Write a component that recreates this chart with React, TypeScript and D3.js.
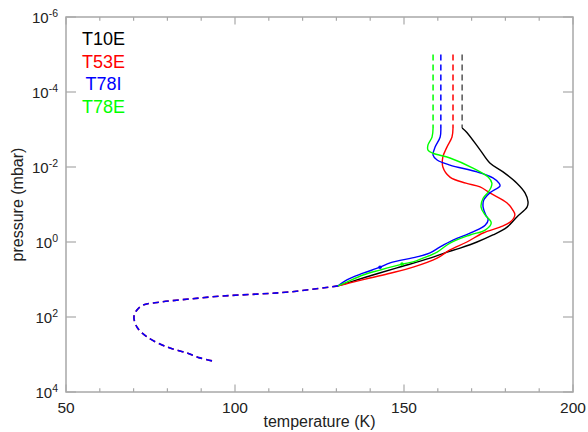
import React from 'react';
import * as d3 from 'd3';

// ---------- data ----------
const xMajorTicks = [50, 100, 150, 200];
const xMinorTicks = [60, 70, 80, 90, 110, 120, 130, 140, 160, 170, 180, 190];
const yTickExponents = [-6, -4, -2, 0, 2, 4];

const seriesNames = ['T10E', 'T53E', 'T78I', 'T78E'];
const seriesColors = ['#000000', '#ff0000', '#0000ff', '#00ff00'];

// isothermal upper extension (dashed), one temperature per series
const topTemps = [167.2, 164.5, 160.9, 158.6];
const topPressureRange = [1e-5, 9.1e-4];

// T10E
const t10eTemp = [167.2, 168.6, 172.5, 175.4, 179.3, 183.4, 185.8, 186.7, 186.4, 183.4, 180.5, 176.3, 171.6, 166.6, 162.1, 157.7, 147.9, 140.8, 134.0, 130.5];
const t10ePres = [9.1e-4, 1.2e-3, 3.5e-3, 7.8e-3, 1.35e-2, 2.7e-2, 4.9e-2, 8.5e-2, 0.117, 0.214, 0.40, 0.65, 1.0, 1.45, 1.95, 2.7, 4.9, 7.6, 11.7, 14.8];

// T53E
const t53eTemp = [164.5, 164.2, 162.7, 161.5, 161.5, 163.6, 168.3, 172.5, 175.4, 180.5, 182.2, 182.8, 181.4, 178.4, 173.4, 168.6, 163.6, 159.8, 152.7, 145.9, 139.9, 134.0, 130.5];
const t53ePres = [9.1e-4, 1.58e-3, 2.95e-3, 5.4e-3, 1.0e-2, 1.86e-2, 2.7e-2, 3.4e-2, 4.9e-2, 9.1e-2, 0.141, 0.19, 0.295, 0.40, 0.575, 1.0, 1.62, 2.7, 4.7, 6.8, 9.1, 12.3, 14.8];

// T78I
const t78iTemp = [160.9, 160.7, 159.2, 158.6, 159.8, 163.6, 171.6, 176.3, 178.1, 178.4, 175.4, 173.6, 173.4, 174.2, 174.9, 174.0, 170.4, 164.5, 160.7, 157.7, 153.8, 145.9, 142.9, 137.9, 133.1, 130.5];
const t78iPres = [9.1e-4, 1.58e-3, 2.95e-3, 4.8e-3, 6.5e-3, 8.9e-3, 1.35e-2, 1.95e-2, 2.7e-2, 3.2e-2, 4.9e-2, 7.6e-2, 0.117, 0.19, 0.257, 0.355, 0.537, 0.89, 1.35, 1.95, 2.5, 3.6, 4.7, 6.8, 10.2, 14.8];

// T78E
const t78eTemp = [158.6, 158.3, 157.1, 157.1, 158.6, 163.6, 170.4, 174.9, 176.0, 175.7, 174.9, 173.4, 172.8, 174.0, 175.8, 174.0, 169.5, 163.6, 159.8, 155.6, 152.7, 149.4, 142.9, 137.9, 133.1, 130.5];
const t78ePres = [9.1e-4, 1.58e-3, 2.57e-3, 3.55e-3, 4.3e-3, 5.75e-3, 1.07e-2, 1.86e-2, 2.7e-2, 3.6e-2, 4.7e-2, 6.8e-2, 0.117, 0.19, 0.31, 0.48, 0.65, 1.07, 1.86, 2.7, 3.4, 3.9, 5.6, 7.6, 11.7, 14.8];

// shared lower (dashed) profile
const lowerTemp = [130.5, 116.3, 106.5, 96.4, 86.7, 77.8, 72.8, 71.0, 70.1, 71.0, 74.0, 79.9, 85.8, 89.6, 93.2];
const lowerPres = [14.8, 21.4, 24.5, 27.5, 33, 40, 48, 65, 100, 186, 340, 630, 910, 1230, 1480];

// small markers
const markerTemp = [142.9, 149.4];
const markerPres = [4.7, 3.9];
const markerColors = ['#0000ff', '#00ff00'];

const seriesTemps = [t10eTemp, t53eTemp, t78iTemp, t78eTemp];
const seriesPres = [t10ePres, t53ePres, t78iPres, t78ePres];

// ---------- chart ----------
const W = 588, H = 432;
const L = 66, R = 573, T = 17, B = 392;
const FONT = '"Liberation Sans", Arial, Helvetica, sans-serif';
const AXIS = '#a8a8a8';

export default function App() {
  const x = d3.scaleLinear().domain([50, 200]).range([L, R]);
  const y = d3.scaleLog().domain([1e-6, 1e4]).range([T, B]);
  const line = d3
    .line<[number, number]>()
    .x((d) => x(d[0]))
    .y((d) => y(d[1]))
    .curve(d3.curveCatmullRom.alpha(0.5));
  const pts = (ts: number[], ps: number[]) => ts.map((t, i) => [t, ps[i]] as [number, number]);

  return (
    <svg width={W} height={H} style={{ position: 'absolute', left: 0, top: 0, background: '#fff' }} fontFamily={FONT}>
      <rect x={0} y={0} width={W} height={H} fill="#fff" />
      {/* frame */}
      <rect x={L} y={T} width={R - L} height={B - T} fill="none" stroke={AXIS} strokeWidth={1.5} />
      {/* x ticks */}
      {xMajorTicks.map((v) => (
        <g key={'xm' + v}>
          <line x1={x(v)} x2={x(v)} y1={B} y2={B - 7.5} stroke={AXIS} strokeWidth={1.2} />
          <line x1={x(v)} x2={x(v)} y1={T} y2={T + 7.5} stroke={AXIS} strokeWidth={1.2} />
          <text x={x(v)} y={412.5} textAnchor="middle" fontSize={15.5} fill="#222">{v}</text>
        </g>
      ))}
      {xMinorTicks.map((v) => (
        <g key={'xn' + v}>
          <line x1={x(v)} x2={x(v)} y1={B} y2={B - 3.8} stroke={AXIS} strokeWidth={1.2} />
          <line x1={x(v)} x2={x(v)} y1={T} y2={T + 3.8} stroke={AXIS} strokeWidth={1.2} />
        </g>
      ))}
      {/* y ticks */}
      {yTickExponents.map((e) => (
        <g key={'y' + e}>
          <line x1={L} x2={L + 10} y1={y(Math.pow(10, e))} y2={y(Math.pow(10, e))} stroke={AXIS} strokeWidth={1.2} />
          <line x1={R} x2={R - 10} y1={y(Math.pow(10, e))} y2={y(Math.pow(10, e))} stroke={AXIS} strokeWidth={1.2} />
          <text x={58} y={y(Math.pow(10, e)) + 6} textAnchor="end" fontSize={15} fill="#222">
            <tspan>10</tspan>
            <tspan dy={-6} fontSize={10.5}>{e}</tspan>
          </text>
        </g>
      ))}
      {/* axis titles */}
      <text x={(L + R) / 2} y={427} textAnchor="middle" fontSize={16} fill="#222">temperature (K)</text>
      <text transform={`translate(23,${(T + B) / 2}) rotate(-90)`} textAnchor="middle" fontSize={16} fill="#222">pressure (mbar)</text>

      {/* lower shared dashed profile */}
      <path d={line(pts(lowerTemp, lowerPres)) || ''} fill="none" stroke="#ff0000" strokeWidth={1.6} strokeDasharray="6,4" />
      <path d={line(pts(lowerTemp, lowerPres)) || ''} fill="none" stroke="#0000ff" strokeWidth={1.6} strokeDasharray="6,4" />

      {/* upper dashed isotherms */}
      {topTemps.map((t, i) => (
        <path
          key={'top' + i}
          d={line(topPressureRange.map((p) => [t, p] as [number, number])) || ''}
          fill="none"
          stroke={i === 0 ? '#555' : seriesColors[i]}
          strokeWidth={1.5}
          strokeDasharray="6,4"
        />
      ))}

      {/* solid profiles */}
      {seriesTemps.map((ts, i) => (
        <path key={'s' + i} d={line(pts(ts, seriesPres[i])) || ''} fill="none" stroke={seriesColors[i]} strokeWidth={1.4} />
      ))}
      {markerTemp.map((t, i) => (
        <circle key={'m' + i} cx={x(t)} cy={y(markerPres[i])} r={1.8} fill={markerColors[i]} />
      ))}

      {/* legend */}
      {seriesNames.map((n, i) => (
        <text key={n} x={103.5} y={45 + i * 22.6} textAnchor="middle" fontSize={18} fill={seriesColors[i]}>{n}</text>
      ))}
    </svg>
  );
}
